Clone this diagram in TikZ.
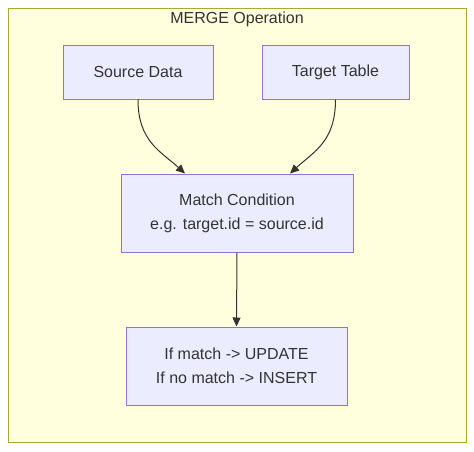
\documentclass[tikz,border=0pt]{standalone}
\usepackage{fontspec}
\setmainfont{Liberation Sans}
\usetikzlibrary{arrows.meta,calc}
\definecolor{clfill}{HTML}{FFFFDE}
\definecolor{clline}{HTML}{AAAA33}
\definecolor{nfill}{HTML}{ECECFF}
\definecolor{nline}{HTML}{9370DB}
\definecolor{txt}{HTML}{333333}
\begin{document}
\begin{tikzpicture}[x=1pt,y=-1pt,
  box/.style={draw=nline,fill=nfill,line width=1pt,text=txt,inner sep=0pt,
    font=\fontsize{16}{24}\selectfont,align=center},
  conn/.style={draw=txt,line width=1pt,-{Triangle[length=9pt,width=8pt]}}]
\useasboundingbox (0,0) rectangle (474,451);
\fill[white] (0,0) rectangle (474,451);
\draw[fill=clfill,draw=clline,line width=1pt] (8,8) rectangle (466,442);
\node[text=txt,font=\fontsize{16}{19}\selectfont] (title) at (237,19) {MERGE Operation};
\node[box,minimum width=150pt,minimum height=54pt] (src) at (138,72) {Source Data};
\node[box,minimum width=147pt,minimum height=54pt] (tgt) at (335.5,72) {Target Table};
\node[box,minimum width=232pt,minimum height=78pt] (match) at (237,213) {Match Condition\\e.g. target.id = source.id};
\node[box,minimum width=221pt,minimum height=78pt] (res) at (236.5,366) {If match -> UPDATE\\If no match -> INSERT};
\coordinate (inL) at ($(match.north)+(-52,0)$);
\coordinate (inR) at ($(match.north)+(53,0)$);
\draw[conn] (src.south) .. controls ($(src.south)+(0,42)$) and ($(inL)+(-24,-22)$) .. (inL);
\draw[conn] (tgt.south) .. controls ($(tgt.south)+(0,42)$) and ($(inR)+(24,-22)$) .. (inR);
\draw[conn] (match.south) -- (res.north);
\end{tikzpicture}
\end{document}
